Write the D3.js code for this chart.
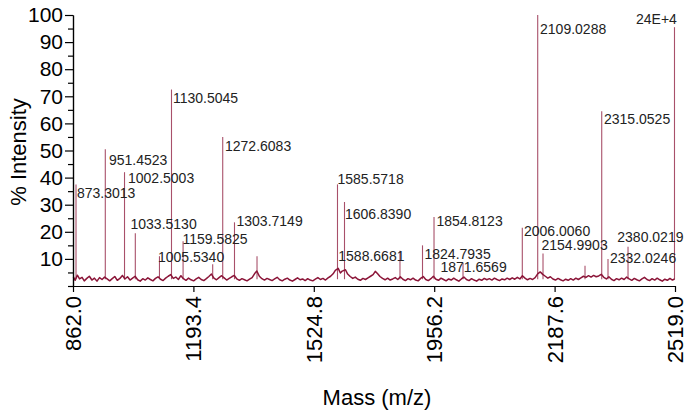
<!DOCTYPE html>
<html>
<head>
<meta charset="utf-8">
<script src="https://cdn.jsdelivr.net/npm/d3@7/dist/d3.min.js"></script>
<style>
  html, body { margin: 0; padding: 0; background: #fff; }
  svg { display: block; font-family: "Liberation Sans", Arial, Helvetica, sans-serif; }
</style>
</head>
<body>
<svg id="chart" width="684" height="410"></svg>
<script>
// ---------------- DATA ----------------
const xTickValues = [862.0, 1193.4, 1524.8, 1856.2, 2187.6, 2519.0];
const xTickLabels = ["862.0", "1193.4", "1524.8", "1956.2", "2187.6", "2519.0"];
const yMajorTicks = [10, 20, 30, 40, 50, 60, 70, 80, 90, 100];
const yMinorTicks = [0, 5, 15, 25, 35, 45, 55, 65, 75, 85, 95];

// baseline noise of the spectrum: [mass, % intensity]
const baseline = [
  [863,3.4],[868,2.1],[874,4.0],[880,2.6],[887,3.2],[893,1.9],[900,2.8],[907,3.6],[914,2.2],[921,2.9],
  [928,1.8],[935,3.1],[942,2.4],[949,3.3],[956,2.6],[963,1.9],[970,2.7],[977,3.5],[984,2.1],[991,2.8],
  [998,3.9],[1005,2.6],[1012,3.4],[1019,2.2],[1026,2.9],[1033,3.6],[1040,2.3],[1047,1.8],[1054,2.7],[1061,2.2],
  [1068,3.0],[1075,2.4],[1082,1.9],[1089,2.8],[1096,3.4],[1103,2.5],[1110,2.0],[1117,2.9],[1124,3.6],[1131,4.2],
  [1138,2.8],[1145,3.3],[1152,2.4],[1159,3.8],[1166,2.7],[1173,2.1],[1180,2.9],[1187,2.3],[1194,1.9],[1201,2.6],
  [1208,3.2],[1215,2.4],[1222,2.0],[1229,2.7],[1236,3.5],[1243,4.4],[1250,2.9],[1257,2.3],[1264,3.1],[1271,3.8],
  [1278,3.0],[1285,2.2],[1292,2.8],[1299,3.4],[1306,3.9],[1313,2.6],[1320,2.1],[1327,2.7],[1334,2.3],[1341,1.9],
  [1348,2.5],[1355,3.1],[1362,4.6],[1368,5.5],[1375,3.6],[1382,2.7],[1389,2.2],[1396,2.8],[1403,2.4],[1410,2.0],
  [1417,2.6],[1424,3.2],[1431,2.3],[1438,1.9],[1445,2.5],[1452,2.9],[1459,2.2],[1466,1.8],[1473,2.4],[1480,3.0],
  [1487,2.3],[1494,2.6],[1501,2.0],[1508,2.7],[1515,2.2],[1522,1.9],[1529,2.5],[1536,3.1],[1543,2.4],[1550,2.8],
  [1557,2.2],[1564,3.0],[1571,3.6],[1578,4.5],[1584,5.8],[1592,6.5],[1598,4.8],[1603,5.5],[1612,6.0],[1618,4.4],
  [1625,3.5],[1632,2.8],[1639,3.3],[1646,2.5],[1653,2.1],[1660,2.8],[1667,2.4],[1674,3.0],[1681,3.6],[1688,4.2],
  [1694,5.4],[1700,4.6],[1707,3.5],[1714,2.8],[1721,2.3],[1728,2.9],[1735,2.2],[1742,2.6],[1749,3.1],[1756,2.4],
  [1763,3.4],[1770,2.5],[1777,2.0],[1784,2.7],[1791,2.3],[1798,2.9],[1805,2.2],[1812,1.9],[1819,2.8],[1826,3.5],
  [1833,2.4],[1840,2.0],[1847,2.7],[1854,3.6],[1861,2.5],[1868,2.1],[1875,2.9],[1882,2.4],[1889,1.9],[1896,2.6],
  [1903,2.2],[1910,2.9],[1917,2.3],[1924,1.8],[1931,2.6],[1938,3.3],[1945,2.4],[1952,2.0],[1959,2.7],[1966,2.2],
  [1973,1.8],[1980,2.5],[1987,2.1],[1994,2.8],[2001,2.3],[2008,2.7],[2015,2.2],[2022,2.9],[2029,2.4],[2036,2.0],
  [2043,2.6],[2050,2.3],[2057,2.9],[2064,2.4],[2071,3.0],[2078,2.5],[2085,3.2],[2092,2.6],[2099,3.8],[2106,2.9],
  [2113,2.3],[2120,2.8],[2127,2.4],[2134,3.1],[2141,4.5],[2148,5.2],[2155,4.3],[2162,3.6],[2169,2.9],[2176,3.4],
  [2183,2.6],[2190,2.2],[2197,2.8],[2204,2.3],[2211,1.9],[2218,2.5],[2225,2.1],[2232,2.7],[2239,2.2],[2246,2.9],
  [2253,2.4],[2260,3.0],[2267,3.6],[2274,3.2],[2281,3.8],[2288,3.3],[2295,3.9],[2302,3.4],[2309,3.7],[2316,4.3],
  [2323,3.2],[2330,2.6],[2337,3.4],[2344,2.5],[2351,2.0],[2358,2.7],[2365,2.3],[2372,2.9],[2379,2.4],[2386,3.3],
  [2393,2.6],[2400,2.1],[2407,2.8],[2414,2.3],[2421,1.9],[2428,2.6],[2435,3.2],[2442,2.4],[2449,2.0],[2456,2.7],
  [2463,2.2],[2470,2.9],[2477,2.3],[2484,1.8],[2491,2.5],[2498,2.1],[2505,2.8],[2512,2.2],[2518,2.6]
];

// peaks: [position on mass axis, % intensity]
const peaks = [
  [870.3, 37.5], [950.9, 50.5], [1003.8, 42.0], [1033.5, 19.5], [1100.0, 11.0],
  [1133.1, 72.5], [1165.0, 16.5], [1246.5, 8.0], [1274.1, 55.0], [1306.5, 23.5],
  [1368.5, 11.0], [1590.0, 37.5], [1609.3, 31.0], [1762.0, 13.0], [1824.0, 15.0],
  [1855.7, 25.5], [1935.5, 8.5], [2098.7, 21.5], [2141.1, 100.0], [2155.7, 12.0],
  [2271.3, 7.5], [2317.3, 64.5], [2334.6, 10.0], [2389.7, 14.5], [2517.6, 95.5]
];

// peak annotations: text, anchor mass, anchor intensity
const labelText = ["873.3013","951.4523","1002.5003","1033.5130","1005.5340","1130.5045","1159.5825",
  "1272.6083","1303.7149","1585.5718","1606.8390","1588.6681","1854.8123","1824.7935","1871.6569",
  "2006.0060","2109.0288","2154.9903","2315.0525","2332.0246","2380.0219","24E+4"];
const labelMass = [873.0, 961.1, 1013.4, 1020.3, 1096.0, 1137.3, 1163.4,
  1280.4, 1312.0, 1590.0, 1610.7, 1592.2, 1862.5, 1829.5, 1873.5,
  2103.4, 2147.5, 2151.6, 2323.6, 2340.1, 2360.2, 2411.7];
const labelIntensity = [34.3, 46.5, 39.9, 22.9, 10.7, 69.4, 17.3,
  51.5, 24.0, 39.5, 26.4, 11.2, 24.0, 11.8, 7.0,
  20.4, 94.7, 15.0, 61.6, 10.5, 18.1, 98.5];

// ---------------- CHART ----------------
const svg = d3.select("#chart");
const lineColor = "#8b1538";
const x = d3.scaleLinear().domain([862, 2519]).range([73, 675]);
const y = d3.scaleLinear().domain([0, 100]).range([286, 15]);

svg.append("rect").attr("width", 684).attr("height", 410).attr("fill", "#fff");

// peaks as sticks
svg.append("g").selectAll("line").data(peaks).join("line")
  .attr("x1", d => x(d[0])).attr("x2", d => x(d[0]))
  .attr("y1", y(2.5)).attr("y2", d => y(d[1]))
  .attr("stroke", lineColor).attr("stroke-width", 1.1).attr("stroke-opacity", 0.75);

// noise line
const line = d3.line().x(d => x(d[0])).y(d => y(d[1]));
svg.append("path").datum(baseline)
  .attr("d", line).attr("fill", "none")
  .attr("stroke", lineColor).attr("stroke-width", 1.5).attr("stroke-linejoin", "round");

// labels
svg.append("g").selectAll("text").data(labelText).join("text")
  .attr("x", (d, i) => x(labelMass[i]))
  .attr("y", (d, i) => y(labelIntensity[i]))
  .attr("dy", "0.36em")
  .attr("font-size", 14).attr("fill", "#222")
  .text(d => d);

// axes
const xAxis = svg.append("g").attr("transform", "translate(0,286)")
  .call(d3.axisBottom(x).tickValues(xTickValues).tickFormat((d, i) => xTickLabels[i]).tickSize(6).tickSizeOuter(0));
xAxis.selectAll("path, line").attr("stroke", "#000").attr("stroke-width", 1.2);
xAxis.selectAll("text")
  .attr("font-size", 22).attr("fill", "#000")
  .attr("text-anchor", "end")
  .attr("transform", "rotate(-90)")
  .attr("x", -10).attr("y", 0).attr("dy", "0.34em");

const yAxis = svg.append("g").attr("transform", "translate(73,0)")
  .call(d3.axisLeft(y).tickValues(yMajorTicks).tickSize(8).tickPadding(2).tickSizeOuter(0));
yAxis.selectAll("path, line").attr("stroke", "#000").attr("stroke-width", 1.2);
yAxis.selectAll("text").attr("font-size", 21).attr("fill", "#000");

const yMinor = svg.append("g").attr("transform", "translate(73,0)")
  .call(d3.axisLeft(y).tickValues(yMinorTicks).tickSize(5).tickFormat("").tickSizeOuter(0));
yMinor.selectAll("path, line").attr("stroke", "#000").attr("stroke-width", 1.2);

// axis titles
svg.append("text").attr("x", 377).attr("y", 405)
  .attr("text-anchor", "middle").attr("font-size", 22).attr("fill", "#000")
  .text("Mass (m/z)");
svg.append("text").attr("transform", "translate(26,152) rotate(-90)")
  .attr("text-anchor", "middle").attr("font-size", 22).attr("fill", "#000")
  .text("% Intensity");
</script>
</body>
</html>
